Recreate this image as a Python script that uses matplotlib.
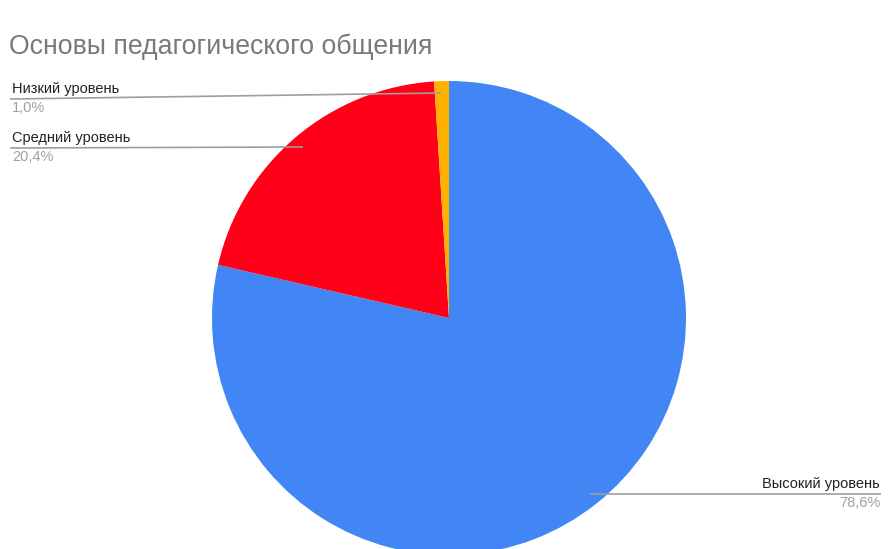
import matplotlib.pyplot as plt

# data
labels = ["Высокий уровень", "Средний уровень", "Низкий уровень"]
values = [78.6, 20.4, 1.0]
pct_text = ["78,6%", "20,4%", "1,0%"]
colors = ["#4285F4", "#FF0018", "#FFB300"]

W, H = 891, 549

fig = plt.figure(figsize=(W / 100, H / 100), dpi=100)
ax = fig.add_axes([0, 0, 1, 1])

# pie in pixel coordinates (y measured from bottom)
cx, cy, r = 449, H - 318, 237
ax.pie(values, colors=colors, startangle=90, counterclock=False,
       center=(cx, cy), radius=r, wedgeprops=dict(linewidth=0))
ax.set_xlim(0, W)
ax.set_ylim(0, H)
ax.set_aspect("auto")
ax.axis("off")

font = "Liberation Sans"
fig.text(9 / W, 1 - 47 / H, "Основы педагогического общения", fontsize=19.2,
         color="#7a7a7a", family=font, va="center", ha="left")

# leader lines (pixel coords, top-origin) and label anchors
leaders = {
    "Низкий уровень": ((10, 99), (441, 93), "left"),
    "Средний уровень": ((10, 148), (303, 147), "left"),
    "Высокий уровень": ((881, 494), (590, 494), "right"),
}
for lab, pct in zip(labels, pct_text):
    (x0, y0), (x1, y1), side = leaders[lab]
    ax.plot([x0, x1], [H - y0, H - y1], color="#9e9e9e", lw=1.2,
            solid_capstyle="butt")
    tx = x0 + 2 if side == "left" else x0 - 1
    ax.text(tx, H - y0 + 3, lab, ha=side, va="bottom", fontsize=10.5,
            color="#222222", family=font)
    ax.text(tx, H - y0 - 2, pct, ha=side, va="top", fontsize=10.5,
            color="#a0a0a0", family=font)

fig.savefig("out.png", dpi=100)
